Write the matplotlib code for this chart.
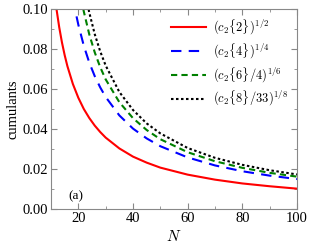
import matplotlib
matplotlib.use("Agg")
import matplotlib.pyplot as plt
from matplotlib.ticker import MultipleLocator

# --------------------------
# DATA
# --------------------------
n_red = [11, 12, 13, 14, 15, 16, 18, 20, 22, 24, 26, 28, 30, 35, 40, 45, 50, 60, 70, 80, 90, 100]
c22 = [0.111, 0.100, 0.0909, 0.0833, 0.0769, 0.0714, 0.0625, 0.0556, 0.0500, 0.0455, 0.0417,
       0.0385, 0.0357, 0.0303, 0.0262, 0.0232, 0.0207, 0.0172, 0.0147, 0.0128, 0.0114, 0.0102]

n_blue = [18, 19, 20, 22, 24, 26, 28, 30, 35, 40, 45, 50, 60, 70, 80, 90, 100]
c24 = [0.1057, 0.0984, 0.0921, 0.0816, 0.0732, 0.0664, 0.0608, 0.0560, 0.0468, 0.0402,
       0.0353, 0.0314, 0.0258, 0.0218, 0.0189, 0.0167, 0.0150]

n_green = [21, 22, 24, 26, 28, 30, 35, 40, 45, 50, 60, 70, 80, 90, 100]
c26 = [0.1056, 0.0987, 0.0873, 0.0783, 0.0709, 0.0648, 0.0534, 0.0454, 0.0395, 0.0349,
       0.0284, 0.0239, 0.0206, 0.0181, 0.0162]

n_black = [23, 24, 26, 28, 30, 35, 40, 45, 50, 60, 70, 80, 90, 100]
c28 = [0.1046, 0.0982, 0.0874, 0.0788, 0.0717, 0.0585, 0.0495, 0.0428, 0.0378, 0.0305,
       0.0256, 0.0221, 0.0194, 0.0173]

labels = [r"$(c_2\{2\})^{1/2}$", r"$(c_2\{4\})^{1/4}$",
          r"$(c_2\{6\}/4)^{1/6}$", r"$(c_2\{8\}/33)^{1/8}$"]

plt.rcParams["font.family"] = "Liberation Serif"
plt.rcParams["mathtext.fontset"] = "cm"

fig = plt.figure(figsize=(3.11, 2.48), dpi=100)
ax = fig.add_axes([0.164, 0.157, 0.791, 0.807])

ax.plot(n_red, c22, color="red", lw=1.5, label=labels[0])
ax.plot(n_blue, c24, color="blue", lw=1.5, dashes=(5, 3.5), label=labels[1])
ax.plot(n_green, c26, color="green", lw=1.5, dashes=(3, 2), label=labels[2])
ax.plot(n_black, c28, color="black", lw=1.5, dashes=(1.2, 1.2), label=labels[3])

ax.set_xlim(10, 100)
ax.set_ylim(0, 0.1)
ax.xaxis.set_major_locator(MultipleLocator(20))
ax.xaxis.set_minor_locator(MultipleLocator(10))
ax.yaxis.set_major_locator(MultipleLocator(0.02))
ax.yaxis.set_minor_locator(MultipleLocator(0.01))
ax.yaxis.set_major_formatter(plt.FormatStrFormatter("%.2f"))

for s in ax.spines.values():
    s.set_color("#888888")
ax.tick_params(which="both", direction="in", top=True, right=True,
               color="#888888", labelsize=10.5, pad=2)
ax.tick_params(which="major", length=4)
ax.tick_params(which="minor", length=2)

ax.set_xlabel("$N$", fontsize=11, labelpad=3)
ax.set_ylabel("cumulants", fontsize=10.5, labelpad=2)
ax.text(0.07, 0.05, "(a)", transform=ax.transAxes, fontsize=9.5)

ax.legend(loc="upper right", frameon=False, fontsize=9, handlelength=2.8,
          handletextpad=0.6, labelspacing=0.35, borderaxespad=0.3)

fig.savefig("out.png", dpi=100)
